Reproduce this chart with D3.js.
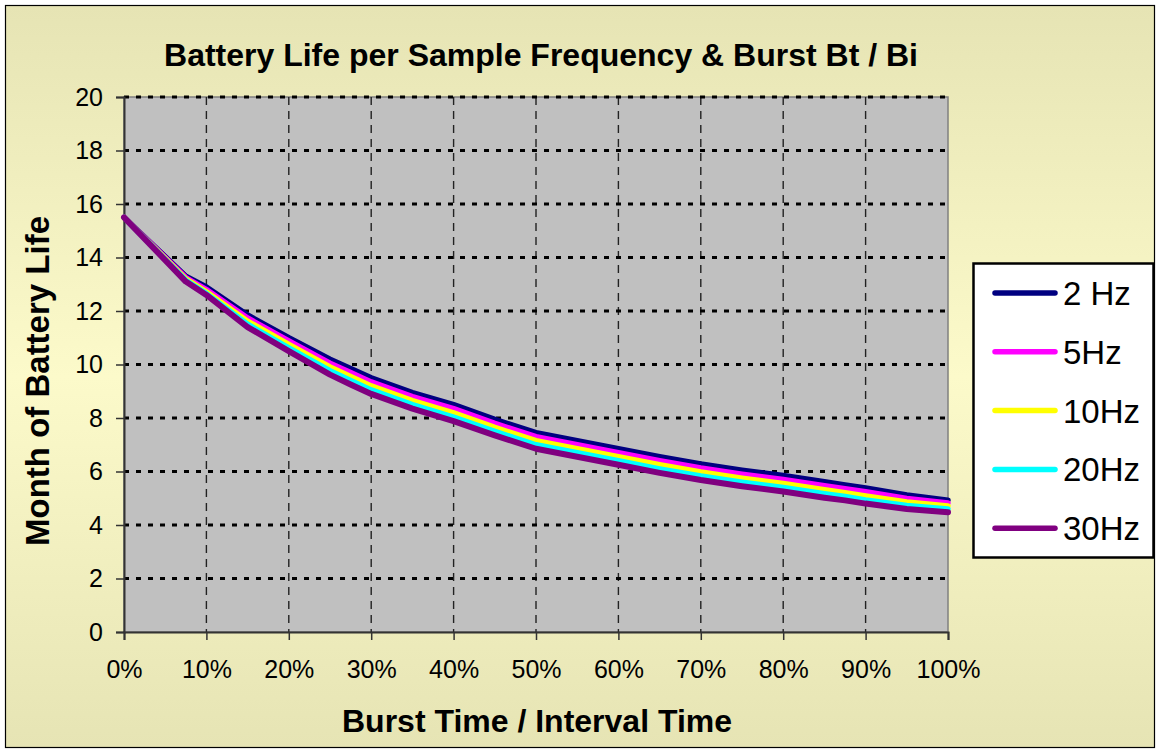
<!DOCTYPE html>
<html><head><meta charset="utf-8">
<script src="https://cdn.jsdelivr.net/npm/d3@7"></script>
<style>body{margin:0;background:#fff}svg{display:block}text{font-family:Arial,"Liberation Sans",sans-serif}</style>
</head><body>
<svg id="c" width="1156" height="749"></svg>
<script>
const xValues = [0,7.5,10,15,20,25,27.5,30,35,40,45,50,55,60,65,70,75,80,85,87.5,90,95,100];
const hz2  = [15.5,13.3,12.9,11.85,11.0,10.2,9.85,9.5,8.95,8.5,7.95,7.45,7.15,6.85,6.55,6.28,6.05,5.85,5.62,5.5,5.38,5.12,4.93];
const hz5  = [15.5,13.25,12.8,11.74,10.88,10.05,9.7,9.35,8.8,8.35,7.8,7.3,7.0,6.7,6.4,6.13,5.9,5.7,5.47,5.36,5.24,4.99,4.82];
const hz10 = [15.5,13.2,12.72,11.62,10.75,9.91,9.55,9.2,8.65,8.19,7.65,7.15,6.85,6.55,6.25,5.98,5.75,5.55,5.32,5.21,5.09,4.86,4.71];
const hz20 = [15.5,13.15,12.65,11.51,10.62,9.77,9.4,9.05,8.5,8.03,7.5,7.0,6.7,6.4,6.1,5.83,5.6,5.4,5.17,5.07,4.94,4.73,4.6];
const hz30 = [15.5,13.1,12.6,11.4,10.5,9.62,9.25,8.9,8.35,7.88,7.35,6.85,6.55,6.25,5.95,5.68,5.45,5.25,5.02,4.92,4.8,4.6,4.48];
const seriesNames = ["2 Hz","5Hz","10Hz","20Hz","30Hz"];
const seriesColors = ["#000080","#FF00FF","#FFFF00","#00FFFF","#800080"];
const xTicks = [0,10,20,30,40,50,60,70,80,90,100];
const yTicks = [0,2,4,6,8,10,12,14,16,18,20];
const titleText = "Battery Life per Sample Frequency & Burst Bt / Bi";
const xTitle = "Burst Time / Interval Time";
const yTitle = "Month of Battery Life";

const svg = d3.select("#c");
const defs = svg.append("defs");
const g = defs.append("linearGradient").attr("id","bg").attr("x1",0).attr("y1",0).attr("x2",0).attr("y2",1);
g.append("stop").attr("offset","0%").attr("stop-color","#E6E4B4");
g.append("stop").attr("offset","50%").attr("stop-color","#FCFACA");
g.append("stop").attr("offset","100%").attr("stop-color","#E6E4B4");

svg.append("rect").attr("x",5.5).attr("y",5.5).attr("width",1149).attr("height",742)
  .attr("fill","url(#bg)").attr("stroke","#000").attr("stroke-width",1.2);

const L=124,R=948,T=97,B=632;
const x = d3.scaleLinear().domain([0,100]).range([L,R]);
const y = d3.scaleLinear().domain([0,20]).range([B,T]);

svg.append("rect").attr("x",L).attr("y",T).attr("width",R-L).attr("height",B-T)
  .attr("fill","#C0C0C0").attr("stroke","#808080").attr("stroke-width",1.5);

// vertical gridlines
svg.append("g").selectAll("line").data(xTicks.filter(d=>d>0&&d<100)).join("line")
  .attr("x1",d=>x(d)).attr("x2",d=>x(d)).attr("y1",T).attr("y2",B)
  .attr("stroke","#222").attr("stroke-width",1.4).attr("stroke-dasharray","8,6");
// horizontal gridlines
svg.append("g").selectAll("line").data(yTicks.filter(d=>d>0)).join("line")
  .attr("x1",L).attr("x2",R).attr("y1",d=>y(d)).attr("y2",d=>y(d))
  .attr("stroke","#000").attr("stroke-width",2.8).attr("stroke-dasharray","5,7");

// axes
const yAxis = svg.append("g").attr("transform",`translate(${L},0)`)
  .call(d3.axisLeft(y).tickValues(yTicks).tickSize(8).tickPadding(13).tickFormat(d3.format("d")));
const xAxis = svg.append("g").attr("transform",`translate(0,${B})`)
  .call(d3.axisBottom(x).tickValues(xTicks).tickSize(8).tickPadding(20).tickFormat(d=>d+"%"));
[yAxis,xAxis].forEach(a=>{
  a.select(".domain").attr("stroke","#333").attr("stroke-width",2);
  a.selectAll(".tick line").attr("stroke","#333").attr("stroke-width",1.5);
  a.selectAll("text").attr("font-size",25).attr("fill","#000").attr("font-family","Arial, 'Liberation Sans', sans-serif");
});

// lines
const allSeries = [hz2,hz5,hz10,hz20,hz30];
const line = d3.line().x((d,i)=>x(xValues[i])).y(d=>y(d));
svg.append("g").selectAll("path").data(allSeries).join("path")
  .attr("d",d=>line(d)).attr("fill","none")
  .attr("stroke",(d,i)=>seriesColors[i]).attr("stroke-width",(d,i)=>i===4?6:5.5)
  .attr("stroke-linejoin","round").attr("stroke-linecap","round");

// titles
svg.append("text").attr("x",541).attr("y",66).attr("text-anchor","middle")
  .attr("font-size",32).attr("font-weight","bold").text(titleText);
svg.append("text").attr("x",537).attr("y",732).attr("text-anchor","middle")
  .attr("font-size",32).attr("font-weight","bold").text(xTitle);
svg.append("text").attr("transform","translate(49,381) rotate(-90)").attr("text-anchor","middle")
  .attr("font-size",33).attr("font-weight","bold").text(yTitle);

// legend
svg.append("rect").attr("x",973.5).attr("y",263.5).attr("width",180).attr("height",294)
  .attr("fill","#fff").attr("stroke","#000").attr("stroke-width",2.5);
const lg = svg.append("g").selectAll("g").data(seriesNames).join("g")
  .attr("transform",(d,i)=>`translate(0,${293+i*58.8})`);
lg.append("line").attr("x1",995).attr("x2",1055).attr("y1",0).attr("y2",0)
  .attr("stroke",(d,i)=>seriesColors[i]).attr("stroke-width",5.5).attr("stroke-linecap","round");
lg.append("text").attr("x",1063).attr("y",12).attr("font-size",33).text(d=>d);
</script>
</body></html>
